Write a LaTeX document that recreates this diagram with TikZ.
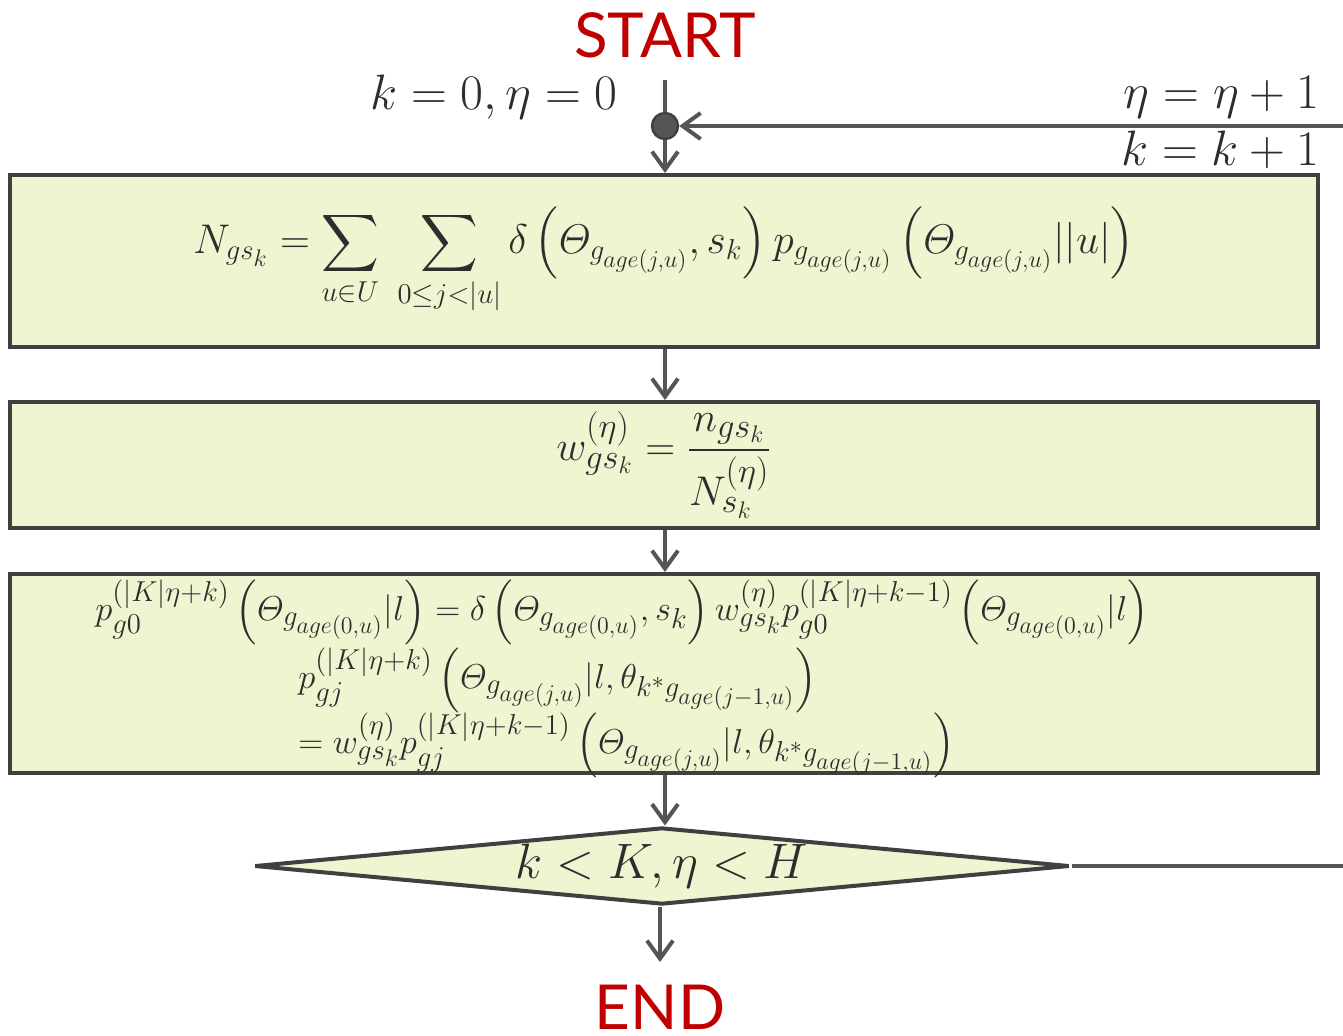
\documentclass[tikz,border=0pt]{standalone}
\usepackage{amsmath,amssymb}
\usepackage{fontspec}
\setsansfont{Lato}
\DeclareMathSizes{20}{20}{15}{12}
\DeclareMathSizes{22}{22}{16}{13}
\DeclareMathSizes{18}{18}{14}{11.5}
\DeclareMathSizes{25}{25}{17.5}{12.5}
\DeclareMathSizes{23}{23}{16}{12}
\usetikzlibrary{arrows.meta,shapes.geometric}
\definecolor{boxfill}{RGB}{240,244,208}
\definecolor{boxline}{RGB}{64,64,64}
\definecolor{conn}{RGB}{85,85,85}
\definecolor{redtxt}{RGB}{192,0,0}
\definecolor{mathtxt}{RGB}{45,45,45}
\tikzset{
  procbox/.style={draw=boxline,fill=boxfill,line width=2pt,rectangle,minimum width=654pt,inner sep=0pt,text=mathtxt},
  decbox/.style={draw=boxline,fill=boxfill,line width=2pt,diamond,aspect=10.58,minimum width=407.5pt,minimum height=38.5pt,inner sep=0pt,text=mathtxt},
  conn/.style={draw=conn,line width=2pt},
  arr/.style={conn,-{Straight Barb[length=9pt,width=13pt,line width=2pt]}},
  terminal/.style={text=redtxt,font=\sffamily\fontsize{31}{36}\selectfont,inner sep=0pt},
  lab/.style={text=mathtxt,font=\fontsize{23}{28}\selectfont,inner sep=0pt},
  formline/.style={text=mathtxt,anchor=west,inner sep=0pt,font=\fontsize{18}{22}\selectfont},
  joint/.style={circle,fill=conn,draw=boxline,line width=1.2pt,minimum size=13pt,inner sep=0pt},
}
\begin{document}
\begin{tikzpicture}[x=0.5pt,y=-0.5pt]
\useasboundingbox (0,0) rectangle (1343,1035);
\node[terminal] (start) at (665,35) {START};
\node[lab,anchor=east] (init) at (618,97) {$k=0,\eta=0$};
\node[lab,anchor=east] (inceta) at (1320,97) {$\eta=\eta+1$};
\node[lab,anchor=east] (inck) at (1320,150) {$k=k+1$};
\coordinate (top) at (665,80);
\coordinate (rin) at (1343,126);
\coordinate (rout) at (1343,866);
\coordinate (endtip) at (660,962);

\node[procbox,minimum height=86pt] (b1) at (664,261) {\fontsize{20}{24}\selectfont
$\displaystyle N_{gs_k}=\sum_{u\in U}\;\sum_{0\le j<|u|}\delta\left(\varTheta_{g_{age(j,u)}},s_k\right)p_{g_{age(j,u)}}\left(\varTheta_{g_{age(j,u)}}||u|\right)$};
\node[procbox,minimum height=63pt] (b2) at (664,465) {\fontsize{22}{26}\selectfont
$\displaystyle w_{gs_k}^{(\eta)}=\frac{n_{gs_k}}{N_{s_k}^{(\eta)}}$};
\node[procbox,minimum height=99.5pt] (b3) at (664,673.5) {};
\node[formline] (l1) at (95,612) {$\displaystyle p_{g0}^{(|K|\eta+k)}\left(\varTheta_{g_{age(0,u)}}|l\right)=\delta\left(\varTheta_{g_{age(0,u)}},s_k\right)w_{gs_k}^{(\eta)}p_{g0}^{(|K|\eta+k-1)}\left(\varTheta_{g_{age(0,u)}}|l\right)$};
\node[formline] (l2) at (298,680) {$\displaystyle p_{gj}^{(|K|\eta+k)}\left(\varTheta_{g_{age(j,u)}}|l,\theta_{k^*g_{age(j-1,u)}}\right)$};
\node[formline] (l3) at (298,745) {$\displaystyle =w_{gs_k}^{(\eta)}p_{gj}^{(|K|\eta+k-1)}\left(\varTheta_{g_{age(j,u)}}|l,\theta_{k^*g_{age(j-1,u)}}\right)$};
\node[decbox] (dec) at (662,866) {\fontsize{25}{30}\selectfont$k<K,\eta<H$};
\node[terminal] (end) at (660,1007) {END};

\node[joint] (dot) at (665,126) {};
\draw[conn] (top) -- (dot);
\draw[arr] (rin) -- (dot);
\draw[arr] (dot) -- (b1.north -| dot);
\draw[arr] (b1.south -| dot) -- (b2.north -| dot);
\draw[arr] (b2.south -| dot) -- (b3.north -| dot);
\draw[arr] (b3.south -| dot) -- (dec.north -| dot);
\draw[conn] (dec.east) -- (rout);
\draw[arr] (dec.south -| endtip) -- (endtip);
\end{tikzpicture}
\end{document}
